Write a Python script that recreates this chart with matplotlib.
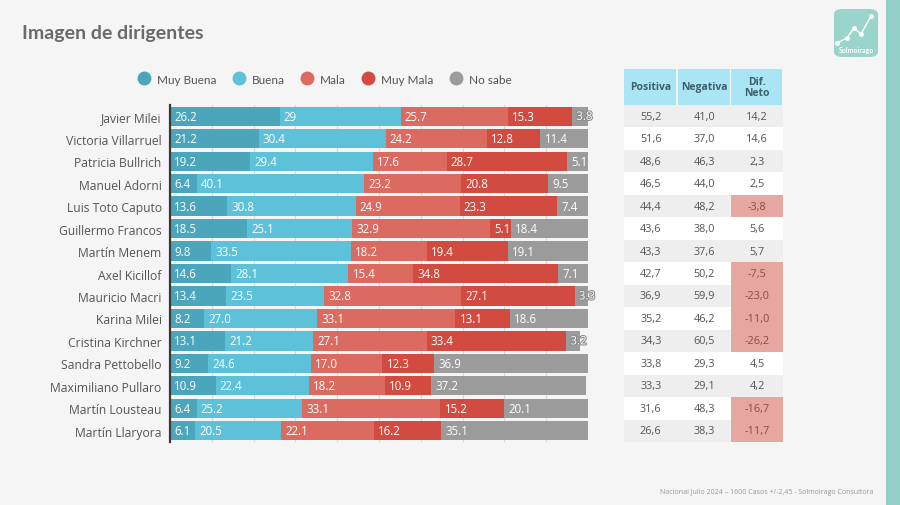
import numpy as np
import matplotlib.pyplot as plt
import matplotlib.patheffects as pe
from matplotlib.patches import Rectangle, FancyBboxPatch
from matplotlib.lines import Line2D

names = ['Javier Milei', 'Victoria Villarruel', 'Patricia Bullrich', 'Manuel Adorni',
         'Luis Toto Caputo', 'Guillermo Francos', 'Martín Menem', 'Axel Kicillof',
         'Mauricio Macri', 'Karina Milei', 'Cristina Kirchner', 'Sandra Pettobello',
         'Maximiliano Pullaro', 'Martín Lousteau', 'Martín Llaryora']

muy_buena = [26.2, 21.2, 19.2, 6.4, 13.6, 18.5, 9.8, 14.6, 13.4, 8.2, 13.1, 9.2, 10.9, 6.4, 6.1]
buena = [29, 30.4, 29.4, 40.1, 30.8, 25.1, 33.5, 28.1, 23.5, 27.0, 21.2, 24.6, 22.4, 25.2, 20.5]
mala = [25.7, 24.2, 17.6, 23.2, 24.9, 32.9, 18.2, 15.4, 32.8, 33.1, 27.1, 17.0, 18.2, 33.1, 22.1]
muy_mala = [15.3, 12.8, 28.7, 20.8, 23.3, 5.1, 19.4, 34.8, 27.1, 13.1, 33.4, 12.3, 10.9, 15.2, 16.2]
no_sabe = [3.8, 11.4, 5.1, 9.5, 7.4, 18.4, 19.1, 7.1, 3.3, 18.6, 3.2, 36.9, 37.2, 20.1, 35.1]

# labels as printed on the chart
bar_labels = [
    ['26.2', '29', '25.7', '15.3', '3.8'],
    ['21.2', '30.4', '24.2', '12.8', '11.4'],
    ['19.2', '29.4', '17.6', '28.7', '5.1'],
    ['6.4', '40.1', '23.2', '20.8', '9.5'],
    ['13.6', '30.8', '24.9', '23.3', '7.4'],
    ['18.5', '25.1', '32.9', '5.1', '18.4'],
    ['9.8', '33.5', '18.2', '19.4', '19.1'],
    ['14.6', '28.1', '15.4', '34.8', '7.1'],
    ['13.4', '23.5', '32.8', '27.1', '3.3'],
    ['8.2', '27.0', '33.1', '13.1', '18.6'],
    ['13.1', '21.2', '27.1', '33.4', '3.2'],
    ['9.2', '24.6', '17.0', '12.3', '36.9'],
    ['10.9', '22.4', '18.2', '10.9', '37.2'],
    ['6.4', '25.2', '33.1', '15.2', '20.1'],
    ['6.1', '20.5', '22.1', '16.2', '35.1'],
]

positiva = ['55,2', '51,6', '48,6', '46,5', '44,4', '43,6', '43,3', '42,7', '36,9',
            '35,2', '34,3', '33,8', '33,3', '31,6', '26,6']
negativa = ['41,0', '37,0', '46,3', '44,0', '48,2', '38,0', '37,6', '50,2', '59,9',
            '46,2', '60,5', '29,3', '29,1', '48,3', '38,3']
dif_neto = ['14,2', '14,6', '2,3', '2,5', '-3,8', '5,6', '5,7', '-7,5', '-23,0',
            '-11,0', '-26,2', '4,5', '4,2', '-16,7', '-11,7']

series_names = ['Muy Buena', 'Buena', 'Mala', 'Muy Mala', 'No sabe']
colors = ['#4ba6bc', '#5dc1da', '#db6a61', '#d14b40', '#9b9b9b']

W, H = 900, 506
fig = plt.figure(figsize=(9, 5.06), dpi=100)
fig.patch.set_facecolor('#f5f5f5')

def fx(px):
    return px / W

def fy(py):
    return 1 - py / H

# bar chart
ax = fig.add_axes([fx(170), fy(443), fx(588) - fx(170), fy(106) - fy(443)])
ax.set_facecolor('#f5f5f5')
data = np.array([muy_buena, buena, mala, muy_mala, no_sabe])
y = np.arange(len(names))
left = np.zeros(len(names))
for k in range(5):
    ax.barh(y, data[k], left=left, height=0.86, color=colors[k], zorder=2)
    for i in range(len(names)):
        t = ax.text(left[i] + 1.0, y[i], bar_labels[i][k], color='white',
                    fontsize=8.3, family='Open Sans', va='center', ha='left', zorder=3)
        if data[k][i] < 4:
            t.set_path_effects([pe.withStroke(linewidth=1.5, foreground='#8a8a8a')])
    left += data[k]
ax.set_xlim(0, 100)
ax.set_ylim(len(names) - 0.5, -0.5)
ax.set_xticks(np.arange(0, 101, 10))
ax.xaxis.grid(True, color='#d8d8d8', lw=0.8, zorder=0)
ax.tick_params(length=0, labelbottom=False)
ax.set_yticks(y)
ax.set_yticklabels(names, fontsize=8.7, family='Open Sans', color='#555555')
ax.tick_params(axis='y', pad=6)
for s in ['top', 'right', 'bottom']:
    ax.spines[s].set_visible(False)
ax.spines['left'].set_color('#3a3a3a')
ax.spines['left'].set_linewidth(1.6)

# legend
handles = [Line2D([], [], marker='o', ls='', markersize=9, color=c) for c in colors]
fig.legend(handles, series_names, loc='center', bbox_to_anchor=(fx(322), fy(80)),
           ncol=5, frameon=False, handletextpad=0.1, columnspacing=0.9,
           prop={'family': 'Lato', 'size': 8.5}, labelcolor='#555555')

# table
tx0, tx1 = 624, 783
tax = fig.add_axes([fx(tx0), fy(443), fx(tx1) - fx(tx0), fy(70) - fy(443)])
tax.axis('off')
hdr = 36 / 22.47
tax.set_xlim(0, 3)
tax.set_ylim(len(names) - 0.5, -0.5 - hdr)
col_x = [0, 1.01, 2.02, 3]
headers = ['Positiva', 'Negativa', 'Dif.\nNeto']
for j in range(3):
    tax.add_patch(Rectangle((col_x[j], -0.5 - hdr), col_x[j + 1] - col_x[j] - 0.02, hdr,
                            color='#a9e5f5', lw=0))
    tax.text((col_x[j] + col_x[j + 1]) / 2, -0.5 - hdr / 2, headers[j], ha='center',
             va='center', fontsize=7.5, weight='bold', color='#3f5f66', family='Open Sans',
             linespacing=1.0)
for i in range(len(names)):
    bg = '#eeeeee' if i % 2 == 0 else 'white'
    tax.add_patch(Rectangle((0, i - 0.5), 3, 1, color=bg, lw=0))
    vals = [positiva[i], negativa[i], dif_neto[i]]
    for j in range(3):
        tc = '#555555'
        if j == 2 and vals[j].startswith('-'):
            tax.add_patch(Rectangle((col_x[2], i - 0.5), 3 - col_x[2], 1,
                                    color='#e6a7a1', lw=0))
            tc = '#8a4a45'
        tax.text((col_x[j] + col_x[j + 1]) / 2, i, vals[j], ha='center', va='center',
                 fontsize=7.8, color=tc, family='Open Sans')

# title and footer
fig.text(fx(22), fy(33), 'Imagen de dirigentes', fontsize=14, weight='bold',
         color='#6a6a6a', family='Lato', va='center', ha='left')
fig.text(fx(873), fy(493), 'Nacional Julio 2024 – 1600 Casos +/-2,45 - Solmoirago Consultora',
         fontsize=5, color='#999999', family='Open Sans', ha='right', va='center')

# right stripe and logo
fig.patches.append(Rectangle((fx(886), 0), fx(14), 1, transform=fig.transFigure,
                             color='#92d0c6', lw=0))
fig.patches.append(FancyBboxPatch((fx(834), fy(58)), fx(44), fy(10) - fy(58),
                                  boxstyle='round,pad=0,rounding_size=0.01',
                                  transform=fig.transFigure, color='#9bd4cb', lw=0))
lx = [fx(p) for p in [837, 847, 854, 861, 871]]
ly = [fy(p) for p in [44, 39, 29, 35, 17]]
fig.lines.append(Line2D(lx, ly, transform=fig.transFigure, color='white', lw=1,
                        marker='o', markersize=2.5))
fig.text(fx(856), fy(51), 'Solmoirago', fontsize=5, color='white', weight='bold',
         ha='center', va='center', family='Lato')

fig.savefig('out.png', dpi=100, facecolor=fig.get_facecolor())
